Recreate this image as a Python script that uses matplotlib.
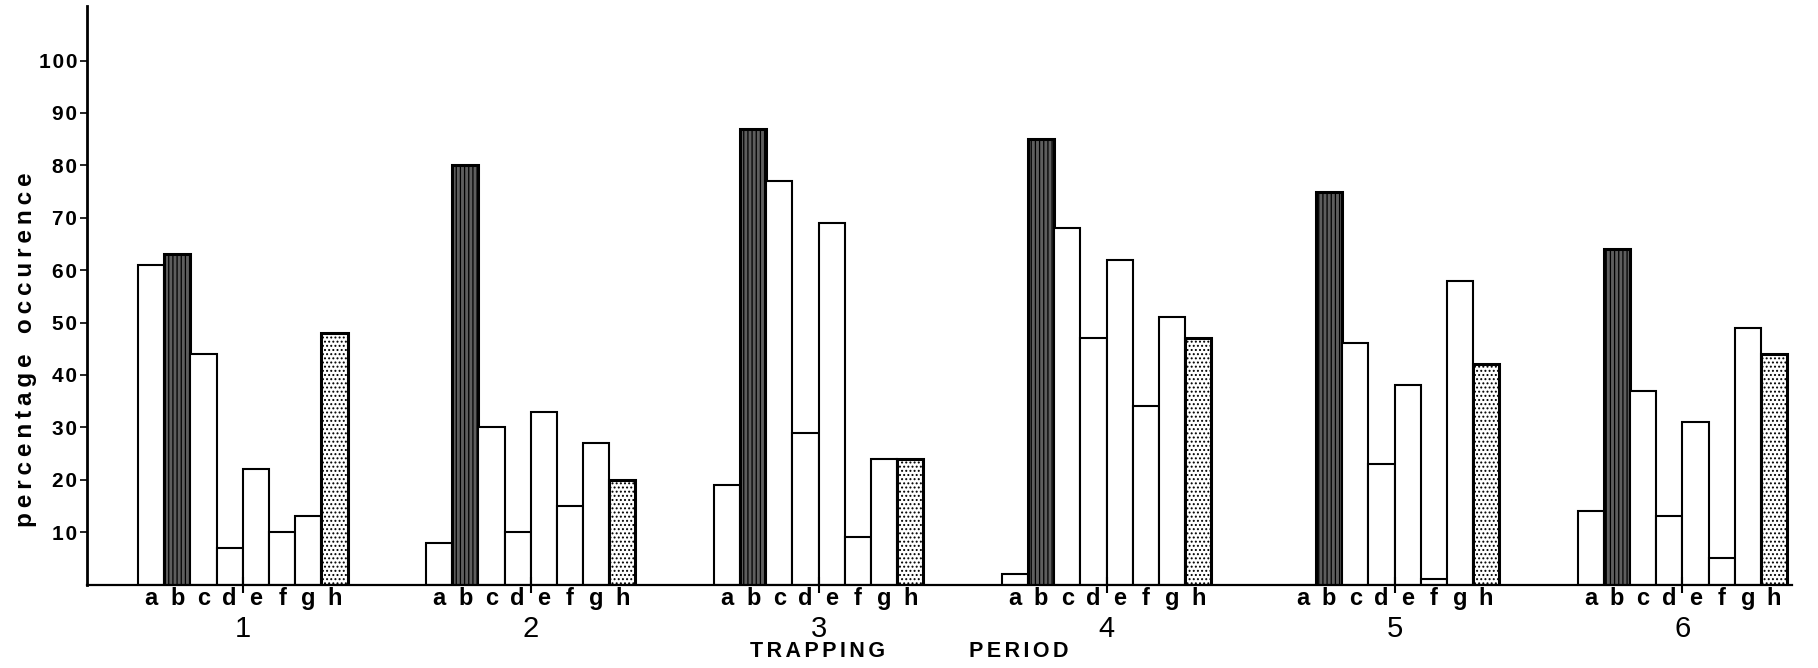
import numpy as np
import matplotlib
matplotlib.use("Agg")
import matplotlib.pyplot as plt

periods = ["1", "2", "3", "4", "5", "6"]
letters = ["a", "b", "c", "d", "e", "f", "g", "h"]

# percentage occurence per category, one value per trapping period
val_a = [61, 8, 19, 2, 0, 14]
val_b = [63, 80, 87, 85, 75, 64]
val_c = [44, 30, 77, 68, 46, 37]
val_d = [7, 10, 29, 47, 23, 13]
val_e = [22, 33, 69, 62, 38, 31]
val_f = [10, 15, 9, 34, 1, 5]
val_g = [13, 27, 24, 51, 58, 49]
val_h = [48, 20, 24, 47, 42, 44]

yticks = [10, 20, 30, 40, 50, 60, 70, 80, 90, 100]

series = [val_a, val_b, val_c, val_d, val_e, val_f, val_g, val_h]

plt.rcParams["font.family"] = ["Liberation Sans", "DejaVu Sans"]
plt.rcParams["hatch.linewidth"] = 0.9


def spaced(s, gap="\u2009"):
    # letter-spaced text, like the old stencil lettering
    return gap.join(s)


fig = plt.figure(figsize=(18.18, 6.68), dpi=100)
ax = fig.add_axes([0.0479, 0.125, 0.938, 0.866])

step = 11
centers = []
for gi in range(len(periods)):
    for k, vals in enumerate(series):
        x = gi * step + k
        centers.append(x)
        if k == 1:
            ax.bar(x, vals[gi], width=1.0, facecolor="#5e5e5e", edgecolor="black",
                   hatch="||||", linewidth=2.2)
        elif k == 7:
            ax.bar(x, vals[gi], width=1.0, facecolor="white", edgecolor="black",
                   hatch="....", linewidth=2.2)
        else:
            ax.bar(x, vals[gi], width=1.0, facecolor="white", edgecolor="black",
                   linewidth=1.5)

ax.set_xlim(-2.45, 62.7)
ax.set_ylim(0, 110.4)

for s in ["top", "right"]:
    ax.spines[s].set_visible(False)
ax.spines["left"].set_linewidth(2)
ax.spines["bottom"].set_linewidth(1.6)

ax.set_yticks(yticks)
ax.set_yticklabels([spaced(str(v), "\u200a") for v in yticks], fontsize=15,
                   fontweight="bold")
ax.tick_params(axis="y", direction="out", length=5, width=1.2, pad=2)

group_centers = [gi * step + 3.5 for gi in range(len(periods))]
ax.set_xticks(group_centers)
ax.set_xticklabels(periods, fontsize=21)
ax.tick_params(axis="x", which="major", direction="inout", length=12, width=1.5, pad=16)

ax.set_xticks(centers, minor=True)
ax.set_xticklabels(letters * len(periods), minor=True, fontsize=17, fontweight="bold")
ax.tick_params(axis="x", which="minor", length=0, pad=2)

fig.text(0.0143, 0.476, spaced("percentage") + "   " + spaced("occurence"),
         rotation=90, ha="center", va="center", fontsize=17.5, fontweight="bold")
fig.text(0.5, 0.025, spaced("TRAPPING", "\u200a\u200a") + "              "
         + spaced("PERIOD", "\u200a\u200a"),
         ha="center", va="center", fontsize=15.5, fontweight="bold")

fig.savefig("out.png", dpi=100)
